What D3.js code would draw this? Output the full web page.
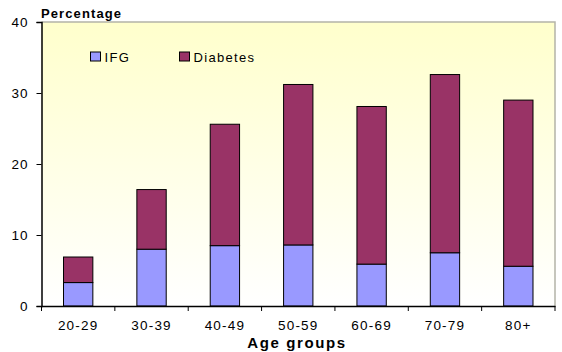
<!DOCTYPE html>
<html><head><meta charset="utf-8">
<script src="https://cdn.jsdelivr.net/npm/d3@7"></script>
<style>body{margin:0;background:#fff}svg{display:block;font-family:"Liberation Sans",Arial,sans-serif}</style>
</head><body><svg id="c" width="562" height="352"></svg>
<script>
const categories = ["20-29","30-39","40-49","50-59","60-69","70-79","80+"];
const ifg = [3.3, 8.0, 8.5, 8.6, 5.9, 7.5, 5.6];
const diabetes = [3.6, 8.4, 17.1, 22.6, 22.2, 25.1, 23.4];
const yTicks = [0, 10, 20, 30, 40];
const seriesNames = ["IFG", "Diabetes"];
const colors = ["#9999FF", "#993366"];

const svg = d3.select("#c");
const L = 41.5, R = 555, T = 22, B = 306;
const x = d3.scaleBand().domain(categories).range([L, R]).paddingInner(0.6).paddingOuter(0.3);
const xb = d3.scaleBand().domain(categories).range([L, R]);
const y = d3.scaleLinear().domain([0, 40]).range([B, T]);

const defs = svg.append("defs");
const g = defs.append("linearGradient").attr("id","bg").attr("x1",0).attr("y1",0).attr("x2",0).attr("y2",1);
g.append("stop").attr("offset","0%").attr("stop-color","#FFFFCC");
g.append("stop").attr("offset","100%").attr("stop-color","#FFFFFF");

svg.append("rect").attr("x",L).attr("y",T).attr("width",R-L).attr("height",B-T).attr("fill","url(#bg)");
svg.append("path").attr("d",`M${L},${T}H${R}V${B}`).attr("fill","none").attr("stroke","#b4b4a8").attr("stroke-width",1.5);

const data = categories.map((c,i)=>({c, vals:[ifg[i], diabetes[i]]}));
const stack = d3.stack().keys([0,1]).value((d,k)=>d.vals[k])(data);
stack.forEach((s,k)=>{
  svg.append("g").selectAll("rect").data(s).join("rect")
    .attr("x", d=>x(d.data.c)).attr("width", x.bandwidth())
    .attr("y", d=>y(d[1])).attr("height", d=>y(d[0])-y(d[1]))
    .attr("fill", colors[k]).attr("stroke","#000").attr("stroke-width",1);
});

const ya = svg.append("g").attr("transform",`translate(${L},0)`)
  .call(d3.axisLeft(y).tickValues(yTicks).tickSize(5).tickPadding(8));
ya.select(".domain").attr("stroke","#000").attr("stroke-width",1.5);
ya.selectAll("text").attr("font-size",13.5).attr("fill","#000").attr("font-family","Liberation Sans, Arial, sans-serif").attr("letter-spacing","1px");

const xa = svg.append("g").attr("transform",`translate(0,${B})`)
  .call(d3.axisBottom(xb).tickSize(0).tickPadding(14));
xa.select(".domain").attr("stroke","#000").attr("stroke-width",1.5);
xa.selectAll("text").attr("font-size",13.5).attr("fill","#000").attr("font-family","Liberation Sans, Arial, sans-serif").attr("letter-spacing","1.2px");
const bounds = categories.map(c=>xb(c)).concat([R]);
svg.append("g").selectAll("line").data(bounds).join("line")
  .attr("x1",d=>d).attr("x2",d=>d).attr("y1",B).attr("y2",B+5).attr("stroke","#000");

svg.append("text").attr("x",41).attr("y",18).attr("font-size",13).attr("font-weight","bold").attr("letter-spacing","1.1px").text("Percentage");
svg.append("text").attr("x",297).attr("y",348).attr("text-anchor","middle").attr("font-size",15).attr("font-weight","bold").attr("letter-spacing","1.6px").text("Age groups");

const legX = [90.5, 179.5];
seriesNames.forEach((n,i)=>{
  svg.append("rect").attr("x",legX[i]).attr("y",52).attr("width",10).attr("height",9).attr("fill",colors[i]).attr("stroke","#000");
  svg.append("text").attr("x",legX[i]+14).attr("y",61.5).attr("font-size",13).attr("letter-spacing","1.3px").text(n);
});
</script></body></html>
